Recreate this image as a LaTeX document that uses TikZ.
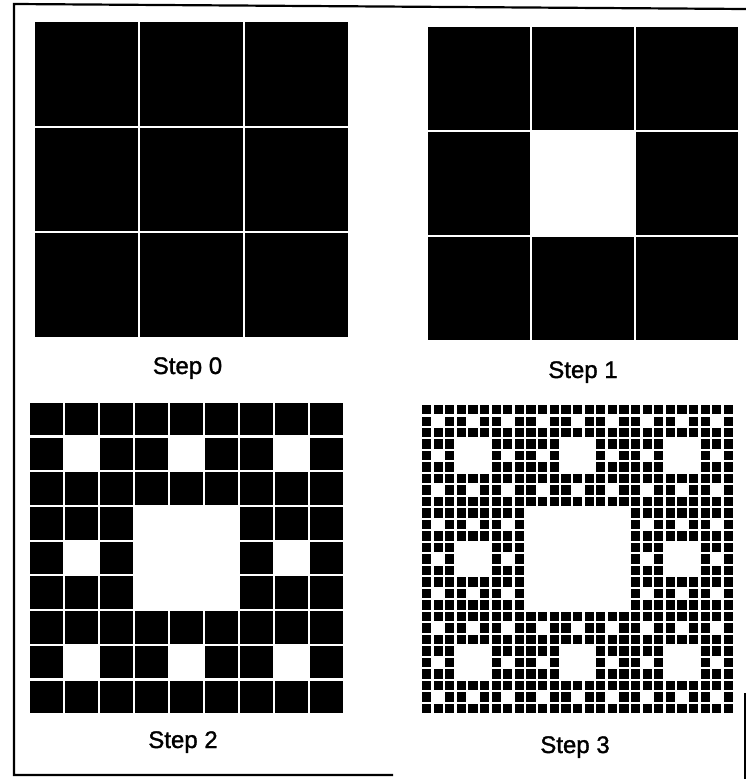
\documentclass[tikz,border=0pt]{standalone}
\usepackage{fontspec}
\setmainfont{Liberation Sans}
\newfontfamily\labelfont[FakeBold=1.3]{Liberation Sans}
\newcommand\drawcarpet[7]{% x0,y0,x1,y1,N,gap,depth
  \pgfmathsetmacro\cw{(#3-#1+#6)/#5}
  \pgfmathsetmacro\ch{(#4-#2+#6)/#5}
  \pgfmathtruncatemacro\nm{#5-1}
  \foreach \i in {0,...,\nm}{
    \foreach \j in {0,...,\nm}{
      \pgfmathtruncatemacro\hole{(#7>0)*(mod(\i,3)==1)*(mod(\j,3)==1)+(#7>1)*(mod(int(\i/3),3)==1)*(mod(int(\j/3),3)==1)+(#7>2)*(mod(int(\i/9),3)==1)*(mod(int(\j/9),3)==1)}
      \ifnum\hole=0
        \fill[cell] (#1+\i*\cw, #2+\j*\ch) rectangle ++(\cw-#6, \ch-#6);
      \fi
    }
  }
}
\begin{document}
\begin{tikzpicture}[x=1pt,y=-1pt,
  cell/.style={fill=black},
  frameline/.style={draw=black,line width=2.2pt},
  steplabel/.style={anchor=base,font=\labelfont\fontsize{24}{28}\selectfont,inner sep=0pt}]
\useasboundingbox (0,0) rectangle (746,779);
\fill[white] (0,0) rectangle (746,779);
% frame
\coordinate (fa) at (393,775);
\coordinate (fb) at (14,775);
\coordinate (fc) at (14,4);
\coordinate (fd) at (746,9);
\coordinate (fe) at (745,693);
\coordinate (ff) at (745,779);
\draw[frameline] (fa) -- (fb) -- (fc) -- (fd);
\draw[frameline] (fe) -- (ff);
% panels
\drawcarpet{35}{22}{348}{337}{3}{2}{0}
\drawcarpet{428}{27}{738}{340}{3}{2}{1}
\drawcarpet{30}{403}{343}{713}{9}{2.2}{2}
\drawcarpet{422}{405}{733}{713}{27}{2.4}{3}
% labels
\node[steplabel] (s0) at (187.5,374) {Step 0};
\node[steplabel] (s1) at (583,378) {Step 1};
\node[steplabel] (s2) at (183,748) {Step 2};
\node[steplabel] (s3) at (575,753) {Step 3};
\end{tikzpicture}
\end{document}
